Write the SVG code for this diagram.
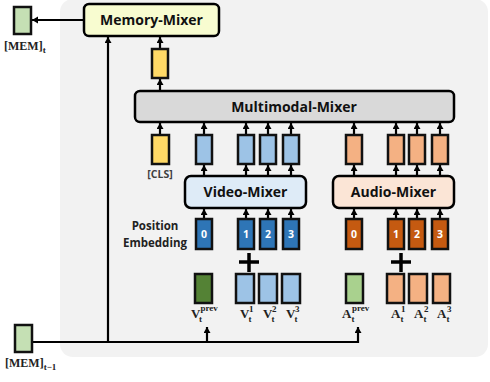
<svg xmlns="http://www.w3.org/2000/svg" width="490" height="382" viewBox="0 0 490 382">
  <style>
    .panel { fill: #f2f2f2; }
    .box { stroke: #000; stroke-width: 2.5; }
    .tok { stroke: #111; stroke-width: 2.5; }
    .title { font-family: "Open Sans", "Liberation Sans", sans-serif; font-weight: bold; font-size: 14px; fill: #111; text-anchor: middle; }
    .small { font-family: "Open Sans", "Liberation Sans", sans-serif; font-weight: bold; font-size: 11.5px; fill: #222; text-anchor: middle; }
    .cls { font-family: "Open Sans", "Liberation Sans", sans-serif; font-weight: bold; font-size: 10.5px; fill: #404040; text-anchor: middle; }
    .num { font-family: "Open Sans", "Liberation Sans", sans-serif; font-weight: bold; font-size: 10.5px; fill: #fff; text-anchor: middle; }
    .math { font-family: "Liberation Serif", "DejaVu Serif", serif; font-weight: bold; font-size: 13px; fill: #222; }
    .scr { font-size: 9px; }
    .wire { fill: none; stroke: #000; stroke-width: 2.2; }
    .plus { stroke: #000; stroke-width: 3.5; }
    .yellow { fill: #ffd966; }
    .ltblue { fill: #9dc3e6; }
    .blue { fill: #2e75b6; }
    .ltorange { fill: #f4b183; }
    .orange { fill: #c55a11; }
    .dkgreen { fill: #548235; }
    .ltgreen { fill: #a9d18e; }
    .memgreen { fill: #c5e0b4; }
  </style>
  <defs>
    <marker id="arrow" markerUnits="userSpaceOnUse" markerWidth="8" markerHeight="8" refX="6" refY="3.5" orient="auto">
      <path d="M0,0 L6,3.5 L0,7 Z" fill="#000"/>
    </marker>
  </defs>

  <!-- background panel -->
  <rect class="panel" x="60" y="-1" width="428" height="358" rx="13"/>

  <!-- connectors -->
  <g id="connectors">
    <!-- memory path -->
    <line class="wire" x1="83" y1="20" x2="32" y2="20" marker-end="url(#arrow)"/>
    <line class="wire" x1="108" y1="342" x2="108" y2="37" marker-end="url(#arrow)"/>
    <line class="wire" x1="160" y1="49" x2="160" y2="37" marker-end="url(#arrow)"/>
    <line class="wire" x1="160" y1="91" x2="160" y2="79" marker-end="url(#arrow)"/>
    <polyline class="wire" points="32,342 358,342 358,327" marker-end="url(#arrow)"/>
    <line class="wire" x1="207" y1="342" x2="207" y2="327" marker-end="url(#arrow)"/>
    <!-- tokens into the multimodal mixer -->
    <line class="wire" x1="160" y1="135" x2="160" y2="123" marker-end="url(#arrow)"/>
    <line class="wire" x1="204" y1="135" x2="204" y2="123" marker-end="url(#arrow)"/>
    <line class="wire" x1="246" y1="135" x2="246" y2="123" marker-end="url(#arrow)"/>
    <line class="wire" x1="268" y1="135" x2="268" y2="123" marker-end="url(#arrow)"/>
    <line class="wire" x1="291" y1="135" x2="291" y2="123" marker-end="url(#arrow)"/>
    <line class="wire" x1="354" y1="135" x2="354" y2="123" marker-end="url(#arrow)"/>
    <line class="wire" x1="396" y1="135" x2="396" y2="123" marker-end="url(#arrow)"/>
    <line class="wire" x1="417" y1="135" x2="417" y2="123" marker-end="url(#arrow)"/>
    <line class="wire" x1="440" y1="135" x2="440" y2="123" marker-end="url(#arrow)"/>
    <!-- mixers to token row -->
    <line class="wire" x1="204" y1="176" x2="204" y2="165" marker-end="url(#arrow)"/>
    <line class="wire" x1="246" y1="176" x2="246" y2="165" marker-end="url(#arrow)"/>
    <line class="wire" x1="268" y1="176" x2="268" y2="165" marker-end="url(#arrow)"/>
    <line class="wire" x1="291" y1="176" x2="291" y2="165" marker-end="url(#arrow)"/>
    <line class="wire" x1="354" y1="176" x2="354" y2="165" marker-end="url(#arrow)"/>
    <line class="wire" x1="396" y1="176" x2="396" y2="165" marker-end="url(#arrow)"/>
    <line class="wire" x1="417" y1="176" x2="417" y2="165" marker-end="url(#arrow)"/>
    <line class="wire" x1="440" y1="176" x2="440" y2="165" marker-end="url(#arrow)"/>
    <!-- embeddings into mixers -->
    <line class="wire" x1="204" y1="219" x2="204" y2="209" marker-end="url(#arrow)"/>
    <line class="wire" x1="246" y1="219" x2="246" y2="209" marker-end="url(#arrow)"/>
    <line class="wire" x1="268" y1="219" x2="268" y2="209" marker-end="url(#arrow)"/>
    <line class="wire" x1="291" y1="219" x2="291" y2="209" marker-end="url(#arrow)"/>
    <line class="wire" x1="354" y1="219" x2="354" y2="209" marker-end="url(#arrow)"/>
    <line class="wire" x1="396" y1="219" x2="396" y2="209" marker-end="url(#arrow)"/>
    <line class="wire" x1="417" y1="219" x2="417" y2="209" marker-end="url(#arrow)"/>
    <line class="wire" x1="440" y1="219" x2="440" y2="209" marker-end="url(#arrow)"/>
  </g>

  <!-- memory tokens -->
  <g id="mem-t">
    <rect class="tok memgreen" x="14" y="7" width="17" height="27"/>
    <text class="math" x="4" y="50" style="font-size:12px">[MEM]<tspan class="scr" dy="3">t</tspan></text>
  </g>
  <g id="mem-t-1">
    <rect class="tok memgreen" x="15" y="325" width="17" height="27"/>
    <text class="math" x="5" y="367" style="font-size:12px">[MEM]<tspan class="scr" dy="3">t−1</tspan></text>
  </g>

  <!-- mixers -->
  <g id="memory-mixer">
    <rect class="box" x="84" y="4" width="135" height="32" rx="5" fill="#f8fcd0"/>
    <text class="title" x="151.5" y="25">Memory-Mixer</text>
  </g>
  <g id="cls-out">
    <rect class="tok yellow" x="152" y="49" width="16" height="29"/>
  </g>
  <g id="multimodal-mixer">
    <rect class="box" x="135" y="91" width="319" height="31" rx="5" fill="#d9d9d9"/>
    <text class="title" x="294" y="112">Multimodal-Mixer</text>
  </g>
  <g id="video-mixer">
    <rect class="box" x="185" y="176" width="121" height="32" rx="6" fill="#deebf7"/>
    <text class="title" x="245.5" y="197">Video-Mixer</text>
  </g>
  <g id="audio-mixer">
    <rect class="box" x="333" y="176" width="121" height="32" rx="6" fill="#fbe5d6"/>
    <text class="title" x="393.5" y="197">Audio-Mixer</text>
  </g>

  <!-- mixed token row -->
  <g id="cls-token">
    <rect class="tok yellow" x="152" y="135" width="17" height="29"/>
    <text class="cls" x="160" y="178">[CLS]</text>
  </g>
  <g id="video-tokens">
    <rect class="tok ltblue" x="196" y="135" width="16" height="29"/>
    <rect class="tok ltblue" x="238" y="135" width="16" height="29"/>
    <rect class="tok ltblue" x="260" y="135" width="16" height="29"/>
    <rect class="tok ltblue" x="283" y="135" width="16" height="29"/>
  </g>
  <g id="audio-tokens">
    <rect class="tok ltorange" x="346" y="135" width="16" height="29"/>
    <rect class="tok ltorange" x="388" y="135" width="16" height="29"/>
    <rect class="tok ltorange" x="409" y="135" width="16" height="29"/>
    <rect class="tok ltorange" x="432" y="135" width="16" height="29"/>
  </g>

  <!-- position embeddings -->
  <g id="position-label">
    <text class="small" x="155" y="230">Position</text>
    <text class="small" x="155" y="247">Embedding</text>
  </g>
  <g id="video-pos">
    <rect class="tok blue" x="196" y="219" width="16" height="30"/>
    <rect class="tok blue" x="238" y="219" width="16" height="30"/>
    <rect class="tok blue" x="260" y="219" width="16" height="30"/>
    <rect class="tok blue" x="283" y="219" width="16" height="30"/>
    <text class="num" x="204" y="238">0</text>
    <text class="num" x="246" y="238">1</text>
    <text class="num" x="268" y="238">2</text>
    <text class="num" x="291" y="238">3</text>
  </g>
  <g id="audio-pos">
    <rect class="tok orange" x="346" y="219" width="16" height="30"/>
    <rect class="tok orange" x="388" y="219" width="16" height="30"/>
    <rect class="tok orange" x="409" y="219" width="16" height="30"/>
    <rect class="tok orange" x="432" y="219" width="16" height="30"/>
    <text class="num" x="354" y="238">0</text>
    <text class="num" x="396" y="238">1</text>
    <text class="num" x="417" y="238">2</text>
    <text class="num" x="440" y="238">3</text>
  </g>

  <!-- plus signs -->
  <g id="video-plus">
    <line class="plus" x1="239" y1="262" x2="259" y2="262"/>
    <line class="plus" x1="249" y1="253" x2="249" y2="272"/>
  </g>
  <g id="audio-plus">
    <line class="plus" x1="391" y1="262" x2="411" y2="262"/>
    <line class="plus" x1="401" y1="253" x2="401" y2="272"/>
  </g>

  <!-- input frames -->
  <g id="video-inputs">
    <rect class="tok dkgreen" x="195" y="274" width="17" height="29"/>
    <rect class="tok ltblue" x="236" y="274" width="18" height="29"/>
    <rect class="tok ltblue" x="259" y="274" width="18" height="29"/>
    <rect class="tok ltblue" x="282" y="274" width="18" height="29"/>
    <text class="math" x="191" y="318">V<tspan class="scr" x="199" y="322">t</tspan><tspan class="scr" x="200.5" y="311">prev</tspan></text>
    <text class="math" x="240" y="318">V<tspan class="scr" x="248.5" y="322">t</tspan><tspan class="scr" x="249" y="312">1</tspan></text>
    <text class="math" x="263" y="318">V<tspan class="scr" x="271.5" y="322">t</tspan><tspan class="scr" x="272" y="312">2</tspan></text>
    <text class="math" x="286" y="318">V<tspan class="scr" x="294.5" y="322">t</tspan><tspan class="scr" x="295" y="312">3</tspan></text>
  </g>
  <g id="audio-inputs">
    <rect class="tok ltgreen" x="346" y="274" width="17" height="29"/>
    <rect class="tok ltorange" x="387" y="274" width="17" height="29"/>
    <rect class="tok ltorange" x="409" y="274" width="18" height="29"/>
    <rect class="tok ltorange" x="433" y="274" width="17" height="29"/>
    <text class="math" x="342" y="318">A<tspan class="scr" x="351.5" y="322">t</tspan><tspan class="scr" x="352" y="311">prev</tspan></text>
    <text class="math" x="391" y="318">A<tspan class="scr" x="400.5" y="322">t</tspan><tspan class="scr" x="401" y="312">1</tspan></text>
    <text class="math" x="414" y="318">A<tspan class="scr" x="423.5" y="322">t</tspan><tspan class="scr" x="424" y="312">2</tspan></text>
    <text class="math" x="437" y="318">A<tspan class="scr" x="446.5" y="322">t</tspan><tspan class="scr" x="447" y="312">3</tspan></text>
  </g>
</svg>
